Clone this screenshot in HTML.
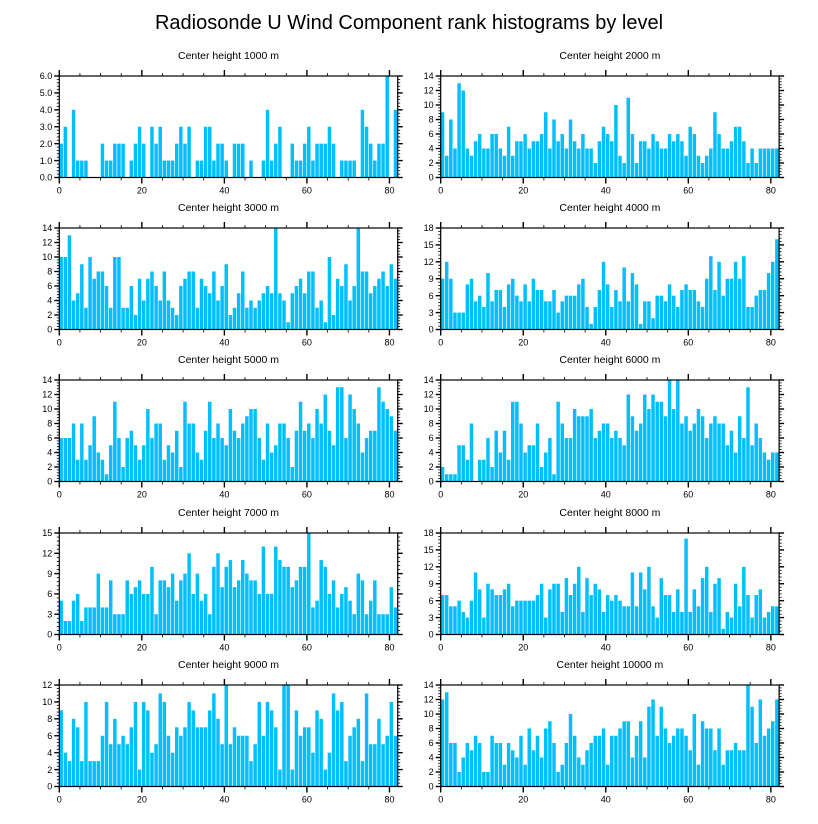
<!DOCTYPE html>
<html><head><meta charset="utf-8">
<style>
html,body{margin:0;padding:0;background:#fff;}
svg{display:block;font-family:"Liberation Sans",sans-serif;}
</style></head>
<body>
<svg id="chart" width="818" height="824" viewBox="0 0 818 824">
<text x="409" y="29" text-anchor="middle" font-size="20" fill="#000">Radiosonde U Wind Component rank histograms by level</text>
</svg>
<script>
const panelTitles = ["Center height 1000 m","Center height 2000 m","Center height 3000 m","Center height 4000 m","Center height 5000 m","Center height 6000 m","Center height 7000 m","Center height 8000 m","Center height 9000 m","Center height 10000 m"];
const counts1000 = [2,3,0,4,1,1,1,0,0,0,2,1,1,2,2,2,0,1,2,3,2,0,3,2,3,1,1,1,2,3,2,3,0,1,1,3,3,1,2,2,1,0,2,2,2,0,1,0,0,1,4,1,2,3,0,0,2,1,1,2,3,1,2,2,2,3,2,0,1,1,1,1,0,4,3,2,1,2,2,6,0,4];
const counts2000 = [9,3,8,4,13,12,4,3,5,6,4,4,6,6,4,3,7,3,5,5,6,4,5,5,6,9,4,8,5,6,4,8,5,4,6,4,4,2,5,7,6,5,10,3,2,11,6,2,5,5,4,6,5,4,4,6,5,6,5,3,7,6,3,2,3,4,9,6,4,4,5,7,7,5,2,4,2,4,4,4,4,4];
const counts3000 = [10,10,13,4,5,9,3,10,7,8,8,6,3,10,10,3,3,6,2,7,4,7,8,6,4,8,4,3,2,6,7,8,8,3,7,6,5,8,4,6,9,2,3,5,8,3,4,3,4,5,6,5,14,5,4,1,5,6,7,5,8,8,3,4,1,10,2,7,6,9,4,6,14,8,8,5,6,7,8,6,9,7];
const counts4000 = [9,12,9,3,3,3,8,9,5,6,4,10,5,7,7,4,8,9,6,5,8,5,9,7,7,5,5,7,3,5,6,6,6,8,9,4,1,4,7,12,8,4,7,5,11,5,10,8,1,5,5,2,6,6,5,8,6,4,7,8,7,7,5,4,9,13,7,12,6,9,9,12,9,13,4,4,6,7,7,10,12,16];
const counts5000 = [6,6,6,8,3,8,3,5,9,4,3,1,5,11,6,2,6,7,5,3,5,10,6,8,8,3,5,4,7,2,11,8,8,4,3,7,11,6,8,6,5,10,7,6,8,9,10,10,6,3,8,4,5,8,8,6,2,7,11,7,8,6,10,8,12,7,5,13,13,6,12,10,8,4,6,7,7,13,11,10,9,7];
const counts6000 = [2,1,1,1,5,5,3,8,0,3,3,6,2,7,4,7,3,11,11,8,4,5,5,8,2,4,6,1,11,8,6,6,10,9,9,9,10,6,7,8,8,6,7,6,5,12,9,7,8,12,10,12,11,11,9,14,10,14,8,9,7,8,10,9,6,8,9,8,8,5,7,4,9,6,13,5,8,6,4,3,4,4];
const counts7000 = [5,2,2,5,6,2,4,4,4,9,4,4,8,3,3,3,8,6,7,8,6,6,10,3,8,8,7,9,5,8,9,12,6,9,5,6,3,10,12,7,10,11,7,8,11,9,8,8,6,13,6,6,13,11,10,10,7,8,10,10,15,4,5,11,10,6,8,4,6,7,5,3,9,8,3,5,8,3,3,3,7,4];
const counts8000 = [7,7,5,5,6,4,3,6,11,8,3,9,8,7,7,8,9,5,6,6,6,6,6,7,9,3,8,9,9,4,10,7,9,12,4,10,7,9,8,4,7,6,7,6,5,5,11,5,11,8,12,5,3,10,7,7,4,8,4,17,4,8,5,10,12,4,9,10,1,4,3,9,5,12,7,3,7,8,3,4,5,5];
const counts9000 = [9,4,3,8,7,3,10,3,3,3,6,10,5,8,5,6,5,7,10,2,10,9,4,5,11,10,6,4,7,6,7,10,9,7,7,7,9,11,8,5,12,5,7,6,6,6,3,5,10,6,10,9,7,2,12,12,2,9,6,7,7,4,9,8,2,4,11,9,10,3,6,7,8,3,11,5,5,8,5,6,10,6];
const counts10000 = [12,13,6,6,2,4,6,5,7,6,2,2,7,6,6,3,6,5,4,7,3,8,5,7,4,8,9,6,2,3,6,10,7,4,3,5,6,7,7,8,3,7,7,8,9,9,4,7,9,4,11,12,7,11,8,6,7,8,8,7,5,10,3,9,8,8,5,8,3,5,5,6,5,5,14,11,6,12,7,8,9,12];
const yMaxes = [6,14,14,18,14,14,15,18,12,14];
const yTickSteps = [1,2,2,3,2,2,3,3,2,2];
const yTickDecimals = [1,0,0,0,0,0,0,0,0,0];
const xTickLabels = [0,20,40,60,80];
const xMax = 82;

const allCounts = [counts1000,counts2000,counts3000,counts4000,counts5000,counts6000,counts7000,counts8000,counts9000,counts10000];
const NS = "http://www.w3.org/2000/svg";
const svg = document.getElementById("chart");
function mk(tag, attrs, parent){
  const e = document.createElementNS(NS, tag);
  for (const k in attrs) e.setAttribute(k, attrs[k]);
  (parent||svg).appendChild(e);
  return e;
}
const colLeft = [59.3, 440.7];
const plotW = 338.4;
const rowTop = [76, 228, 380, 533, 685];
const plotH = 101.5;

allCounts.forEach((vals, p) => {
  const col = p % 2, row = Math.floor(p / 2);
  const x0 = colLeft[col], y0 = rowTop[row];
  const ymax = yMaxes[p];
  const sx = v => x0 + v / xMax * plotW;
  const sy = v => y0 + plotH - v / ymax * plotH;
  const g = mk("g", {});
  
  
  const t = mk("text", {x: x0 + plotW/2, y: y0 - 17, "text-anchor":"middle", "font-size":"10.5", fill:"#000"}, g);
  t.textContent = panelTitles[p];
  
  
  vals.forEach((v, i) => {
    if (v <= 0) return;
    const r = mk("rect", {x: sx(i) + 0.15, y: sy(v), width: (sx(i+1) - sx(i)) * 0.84, height: sy(0) - sy(v), fill:"#00BFFF"}, g);
    
    
  });
  const frame = mk("rect", {x: x0, y: y0, width: plotW, height: plotH, fill:"none", stroke:"#000", "stroke-width":"1.2"}, g);
  
  
  // x ticks
  for (let v = 0; v <= xMax; v += 5) {
    const major = v % 20 === 0;
    const L = major ? 6 : 3;
    mk("line", {x1: sx(v), x2: sx(v), y1: y0 + plotH, y2: y0 + plotH + L, stroke:"#000", "stroke-width": major?1.4:0.8}, g);
    mk("line", {x1: sx(v), x2: sx(v), y1: y0, y2: y0 - L, stroke:"#000", "stroke-width": major?1.4:0.8}, g);
  }
  xTickLabels.forEach(v => {
    const tl = mk("text", {x: sx(v), y: y0 + plotH + 16, "text-anchor":"middle", "font-size":"9", fill:"#000"}, g);
    tl.textContent = v;
    
    
  });
  // y ticks
  const step = yTickSteps[p];
  const minor = step / 5;
  for (let k = 0; k * minor <= ymax + 1e-9; k++) {
    const v = k * minor;
    const major = k % 5 === 0;
    const L = major ? 5 : 2.5;
    mk("line", {x1: x0, x2: x0 - L, y1: sy(v), y2: sy(v), stroke:"#000", "stroke-width": major?1.4:0.8}, g);
    mk("line", {x1: x0 + plotW, x2: x0 + plotW + L, y1: sy(v), y2: sy(v), stroke:"#000", "stroke-width": major?1.4:0.8}, g);
    if (major) {
      const yl = mk("text", {x: x0 - 7, y: sy(v) + 3.2, "text-anchor":"end", "font-size":"9", fill:"#000"}, g);
      yl.textContent = v.toFixed(yTickDecimals[p]);
      
      
    }
  }
});
</script>
</body></html>
